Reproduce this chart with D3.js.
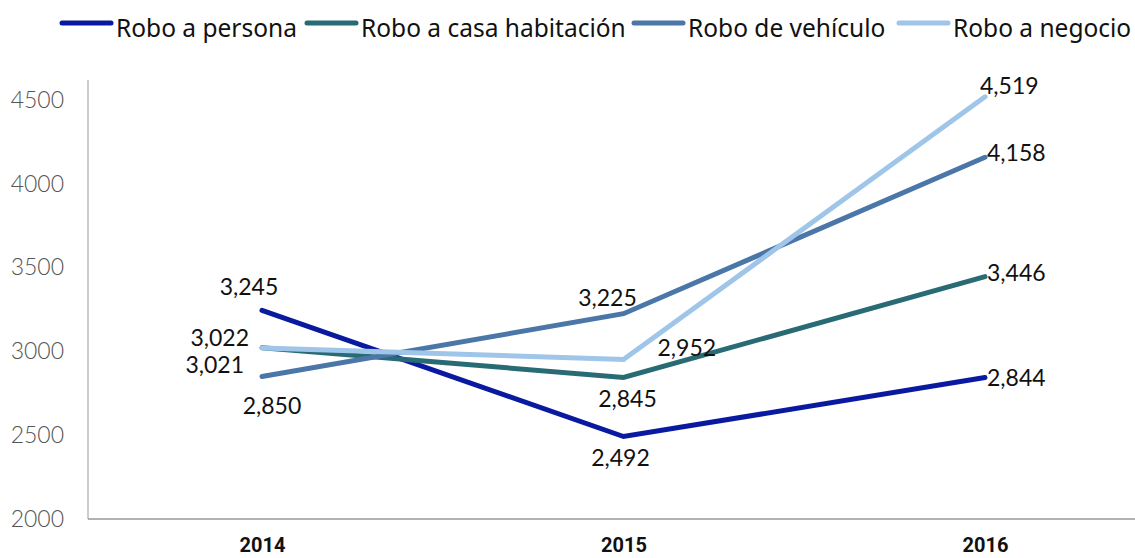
<!DOCTYPE html>
<html>
<head>
<meta charset="utf-8">
<script src="https://cdn.jsdelivr.net/npm/d3@7"></script>
<style>
body { margin: 0; background: #fff; }
.legendText { font-family: 'Noto Sans', sans-serif; font-size: 24.5px; fill: #111; }
.valueText { font-family: Lato, sans-serif; font-size: 23px; fill: #111; }
.yTick text { font-family: Lato, sans-serif; font-weight: 300; font-size: 23px; fill: #555; }
.xTick text { font-family: 'Liberation Sans Narrow', 'Roboto', sans-serif; font-weight: bold; font-size: 20px; fill: #111; }
</style>
</head>
<body>
<div id="chart"></div>
<script>
var years = ['2014', '2015', '2016'];
var seriesNames = ['Robo a persona', 'Robo a casa habitación', 'Robo de vehículo', 'Robo a negocio'];
var persona = [3245, 2492, 2844];
var casa = [3022, 2845, 3446];
var vehiculo = [2850, 3225, 4158];
var negocio = [3021, 2952, 4519];
var yTicks = [2000, 2500, 3000, 3500, 4000, 4500];
var colors = ['#0a1aa0', '#296b74', '#4a77a8', '#9fc5e9'];

var svgWidth = 1135;
var svgHeight = 558;

var svg = d3.select('#chart')
    .append('svg')
    .attr('width', svgWidth)
    .attr('height', svgHeight);

var allSeries = [persona, casa, vehiculo, negocio];

var xScale = d3.scalePoint()
    .domain(years)
    .range([262, 985]);

var yScale = d3.scaleLinear()
    .domain([2000, 4500])
    .range([519, 100]);

// axis lines
svg.append('line')
    .attr('x1', 88).attr('x2', 88)
    .attr('y1', 80).attr('y2', 519)
    .attr('stroke', '#999').attr('stroke-width', 1);
svg.append('line')
    .attr('x1', 88).attr('x2', 1135)
    .attr('y1', 519).attr('y2', 519)
    .attr('stroke', '#999').attr('stroke-width', 1.5);

var leftAxis = d3.axisLeft(yScale).tickValues(yTicks).tickSize(0).tickPadding(0).tickFormat(d => d);
svg.append('g')
    .attr('class', 'yTick')
    .attr('transform', 'translate(64, 0)')
    .call(leftAxis)
    .call(g => g.select('.domain').remove());

var bottomAxis = d3.axisBottom(xScale).tickSize(0).tickPadding(0);
svg.append('g')
    .attr('class', 'xTick')
    .attr('transform', 'translate(0, 538)')
    .call(bottomAxis)
    .call(g => g.select('.domain').remove());

var line = d3.line()
    .x((d, i) => xScale(years[i]))
    .y(d => yScale(d));

allSeries.forEach(function(s, k) {
    svg.append('path')
        .datum(s)
        .attr('d', line)
        .attr('fill', 'none')
        .attr('stroke', colors[k])
        .attr('stroke-width', 5)
        .attr('stroke-linecap', 'round');
});

// value labels: offsets [dx, dy, anchor] per series per year
var labelPos = [
    [[-13, -24, 'middle'], [-3, 21, 'middle'], [2, 0, 'start']],
    [[-13, -10, 'end'], [4, 21, 'middle'], [2, -4, 'start']],
    [[10, 29, 'middle'], [-16, -16, 'middle'], [2, -5, 'start']],
    [[-18, 17, 'end'], [34, -12, 'start'], [-5, -11, 'start']]
];
var fmt = d3.format(',');

allSeries.forEach(function(s, k) {
    svg.selectAll('text.v' + k)
        .data(s)
        .enter()
        .append('text')
        .attr('class', 'valueText v' + k)
        .attr('x', (d, i) => xScale(years[i]) + labelPos[k][i][0])
        .attr('y', (d, i) => yScale(d) + labelPos[k][i][1])
        .attr('dy', '0.36em')
        .attr('text-anchor', (d, i) => labelPos[k][i][2])
        .text(d => fmt(d));
});

// legend
var legendX = [60, 305, 632, 897];
var legend = svg.selectAll('g.legend')
    .data(seriesNames)
    .enter()
    .append('g')
    .attr('class', 'legend')
    .attr('transform', (d, i) => `translate(${legendX[i]}, 23)`);
legend.append('line')
    .attr('x1', 2).attr('x2', 51)
    .attr('y1', 0).attr('y2', 0)
    .attr('stroke', (d, i) => colors[i])
    .attr('stroke-width', 5)
    .attr('stroke-linecap', 'round');
legend.append('text')
    .attr('class', 'legendText')
    .attr('x', 56)
    .attr('y', 14)
    .text(d => d);
</script>
</body>
</html>
